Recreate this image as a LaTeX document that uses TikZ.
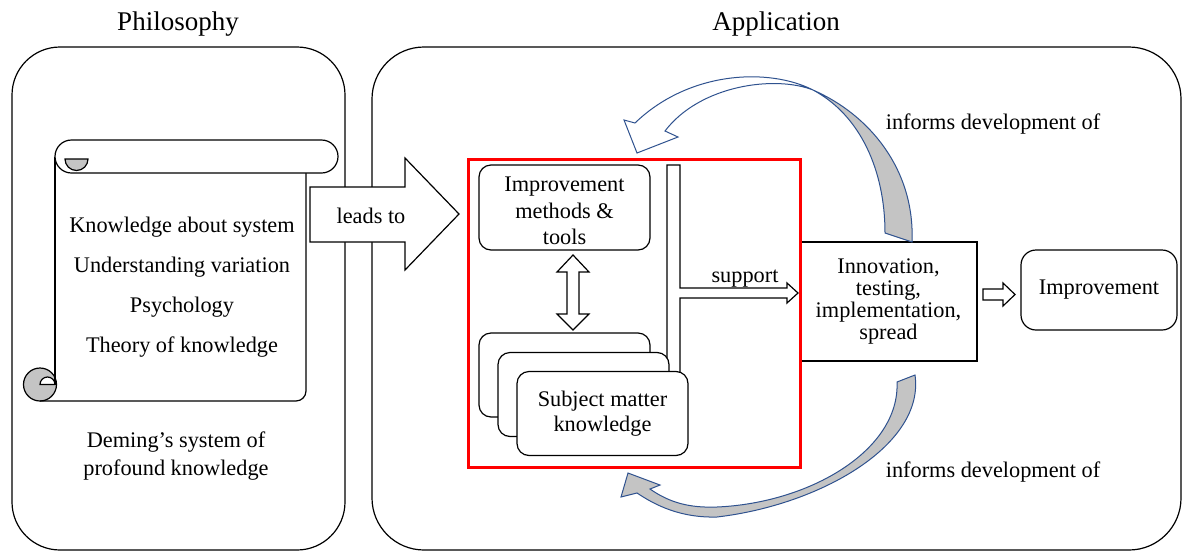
\documentclass[tikz,border=0pt]{standalone}
\usepackage{fontspec}
\setmainfont{Liberation Serif}
\usetikzlibrary{positioning}
\definecolor{arrowblue}{RGB}{47,82,143}
\definecolor{curlgray}{RGB}{196,196,196}
\tikzset{
  panel/.style={draw, line width=1.2pt, rounded corners=48pt, inner sep=0pt},
  rbox/.style={draw, line width=1.2pt, rounded corners=12pt, fill=white, align=center, inner sep=0pt},
  sbox/.style={draw, line width=1.2pt, fill=white, align=center, inner sep=0pt},
  blockarrow/.style={draw, line width=1.2pt, fill=white, line join=miter},
  curved/.style={draw=arrowblue, line width=1pt, fill=curlgray},
  lbl/.style={font=\fontsize{22.3}{23}\selectfont, align=center},
  title/.style={font=\fontsize{27}{30}\selectfont}
}
\begin{document}
\begin{tikzpicture}[x=1pt, y=-1pt]
\useasboundingbox (0,0) rectangle (1182,552);

% titles
\node[title, anchor=base] (philo) at (178,30) {Philosophy};
\node[title, anchor=base] (appl) at (776,30) {Application};

% panels
\node[panel, minimum width=333pt, minimum height=503pt] (left) at (178.5,298.5) {};
\node[panel, rounded corners=52pt, minimum width=809pt, minimum height=503pt] (right) at (776.5,298.5) {};

% scroll
\fill[white] (55,173) rectangle (306,401);
\filldraw[fill=curlgray, line width=1.2pt] (40,384.5) circle (16.5);
\filldraw[fill=white, line width=1.2pt] (40,384.5) arc (180:360:7.5) -- cycle;
\draw[line width=1.2pt] (55,156.5) -- (55,384.5);
\draw[line width=1.2pt, rounded corners=10pt] (40,401) -- (306,401) -- (306,173);
\draw[line width=1.2pt, fill=white] (55,156.5) arc (180:270:16.5) -- (321.5,140)
  arc (270:450:16.5) -- (71.5,173) arc (90:180:16.5) -- cycle;
\filldraw[fill=curlgray, line width=1.2pt] (65,159) -- (88,159) arc (0:180:11.5) -- cycle;

\node[lbl, anchor=base] (sk1) at (182,232) {Knowledge about system};
\node[lbl, anchor=base] (sk2) at (182,272) {Understanding variation};
\node[lbl, anchor=base] (sk3) at (182,312) {Psychology};
\node[lbl, anchor=base] (sk4) at (182,352) {Theory of knowledge};
\node[lbl, font=\fontsize{22.3}{28}\selectfont] (deming) at (176,456) {Deming's system of\\profound knowledge};

% leads to
\draw[blockarrow] (310,187) -- (405,187) -- (405,158) -- (459,214) -- (405,270)
  -- (405,242) -- (310,242) -- cycle;
\node[lbl, anchor=base] (leads) at (371,223) {leads to};

% innovation and improvement
\node[sbox, lbl, minimum width=177pt, minimum height=119pt, font=\fontsize{22.3}{21.7}\selectfont] (innov) at (888.5,301.5) {Innovation,\\testing,\\implementation,\\spread};
\node[rbox, lbl, rounded corners=15pt, minimum width=156pt, minimum height=80pt] (impr) at (1099,290) {Improvement};
\draw[blockarrow] (983,289) -- (1003,289) -- (1003,283) -- (1015,294.5) -- (1003,306)
  -- (1003,300) -- (983,300) -- cycle;

% red frame
\node[draw=red, line width=3pt, minimum width=332pt, minimum height=308pt, inner sep=0pt] (core) at (634,313) {};

% support bracket
\draw[blockarrow] (667,165) -- (680,165) -- (680,288) -- (787,288) -- (787,283)
  -- (798,293) -- (787,303) -- (787,298) -- (680,298) -- (680,380) -- (667,380) -- cycle;
\node[lbl, anchor=base] (supp) at (745,282) {support};

% methods and tools
\node[rbox, minimum width=171pt, minimum height=85pt] (tools) at (564.5,207.5) {};
\node[lbl, font=\fontsize{22.3}{26.5}\selectfont] (toolstext) at (564.5,211) {Improvement\\methods \&\\tools};
\draw[blockarrow] (573,255) -- (589,272) -- (579,272) -- (579,314) -- (589,314) -- (573,330)
  -- (557,314) -- (567,314) -- (567,272) -- (557,272) -- cycle;

% subject matter stack
\node[rbox, minimum width=171pt, minimum height=84pt] (smk1) at (564.5,375) {};
\node[rbox, minimum width=171pt, minimum height=84pt] (smk2) at (583.5,394.5) {};
\node[rbox, lbl, minimum width=171pt, minimum height=84pt, font=\fontsize{22.3}{25}\selectfont] (smk3) at (602.5,413.5) {Subject matter\\knowledge};

% informs arrows
\draw[curved, fill=white] (813,90) .. controls (770,68) and (690,70) .. (635,123)
  -- (624,120) -- (637,153) -- (678,137) -- (665,131)
  .. controls (700,85) and (775,75) .. (813,90);
\draw[curved] (813,90) .. controls (870,115) and (915,170) .. (912,242)
  -- (885,233) .. controls (885,170) and (860,115) .. (813,90) -- cycle;
\draw[curved] (915,375) .. controls (925,445) and (820,505) .. (717,517)
  .. controls (680,518) and (655,505) .. (637,493)
  -- (621,497) -- (628,473) -- (660,485) -- (650,489)
  .. controls (670,503) and (690,508) .. (717,507)
  .. controls (810,503) and (900,450) .. (897,382) -- cycle;
\node[lbl, anchor=base] (inf1) at (993,129) {informs development of};
\node[lbl, anchor=base] (inf2) at (993,477) {informs development of};
\end{tikzpicture}
\end{document}
